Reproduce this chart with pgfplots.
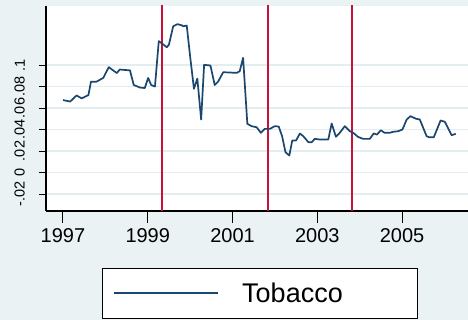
\documentclass[border=0pt]{standalone}
\usepackage{pgfplots}
\pgfplotsset{compat=1.18}
\usepackage{fontspec}
\setmainfont{Liberation Sans}
\definecolor{bgcol}{RGB}{234,242,243}
\definecolor{gridcol}{RGB}{228,237,239}
\definecolor{navyc}{RGB}{26,71,111}
\definecolor{redc}{RGB}{200,16,56}
\begin{document}
\begin{tikzpicture}
\path[fill=bgcol,use as bounding box] (0,0) rectangle (468pt,320pt);
\begin{axis}[
  at={(46pt,109pt)}, anchor=south west,
  scale only axis, width=422pt, height=205pt,
  xmin=1996.599, xmax=2006.557,
  ymin=-0.0358, ymax=0.1549,
  axis lines*=left,
  axis line style={black, line width=1.3pt},
  axis background/.style={fill=white},
  tick align=outside,
  major tick length=12pt,
  xtick={1997,1999,2001,2003,2005},
  xticklabels={1997,1999,2001,2003,2005},
  ytick={-0.02,0,0.02,0.04,0.06,0.08,0.1},
  yticklabels={-.02,0,.02,.04,.06,.08,.1},
  x tick style={black, line width=1pt},
  y tick style={black, line width=1pt, /pgfplots/major tick length=7pt},
  xticklabel style={font=\fontsize{20}{22}\selectfont, yshift=-2pt},
  yticklabel style={font=\fontsize{14.5}{16}\selectfont, xshift=-9pt, rotate=90, anchor=south, inner sep=0pt},
  ymajorgrids, grid style={gridcol, line width=1.5pt},
  legend style={at={(axis description cs:0.1327,-0.278)}, anchor=north west,
    draw=black, line width=1pt, fill=white, inner sep=0pt,
    column sep=0pt, row sep=0pt,
    nodes={inner sep=0pt, anchor=west},
    font=\fontsize{27}{30}\selectfont},
  legend image code/.code={\draw[#1] (0pt,0pt) -- (104pt,0pt); \path (-11pt,-24pt) (127pt,24pt);},
]
\addplot[redc, line width=1.8pt, forget plot] coordinates {(1999.33,-0.04) (1999.33,0.16)};
\addplot[redc, line width=1.8pt, forget plot] coordinates {(2001.83,-0.04) (2001.83,0.16)};
\addplot[redc, line width=1.8pt, forget plot] coordinates {(2003.82,-0.04) (2003.82,0.16)};
\addplot[navyc, line width=1.7pt, line join=round] coordinates {
(1997.00,0.0674) (1997.17,0.0660) (1997.32,0.0717) (1997.44,0.0690) (1997.60,0.0720)
(1997.66,0.0845) (1997.79,0.0845) (1997.95,0.0880) (1998.08,0.0980) (1998.27,0.0925)
(1998.34,0.0958) (1998.58,0.0950) (1998.67,0.0814) (1998.82,0.0790) (1998.93,0.0786)
(1999.01,0.0880) (1999.08,0.0814) (1999.17,0.0800) (1999.26,0.1222) (1999.37,0.1190)
(1999.45,0.1165) (1999.50,0.1190) (1999.60,0.1360) (1999.70,0.1380) (1999.80,0.1370)
(1999.84,0.1360) (1999.92,0.1367) (2000.00,0.1080) (2000.09,0.0779) (2000.17,0.0874)
(2000.26,0.0493) (2000.33,0.1002) (2000.48,0.0995) (2000.58,0.0814) (2000.66,0.0845)
(2000.78,0.0933) (2001.10,0.0927) (2001.17,0.0942) (2001.25,0.1067) (2001.35,0.0453)
(2001.45,0.0431) (2001.57,0.0421) (2001.67,0.0369) (2001.76,0.0406) (2001.88,0.0406)
(2002.00,0.0431) (2002.09,0.0428) (2002.17,0.0338) (2002.25,0.0189) (2002.34,0.0158)
(2002.41,0.0298) (2002.50,0.0298) (2002.59,0.0363) (2002.67,0.0338) (2002.79,0.0282)
(2002.87,0.0282) (2002.94,0.0313) (2003.06,0.0307) (2003.26,0.0307) (2003.34,0.0456)
(2003.44,0.0332) (2003.53,0.0369) (2003.65,0.0431) (2003.77,0.0384) (2003.85,0.0369)
(2003.96,0.0332) (2004.08,0.0313) (2004.24,0.0313) (2004.33,0.0363) (2004.41,0.0353)
(2004.50,0.0393) (2004.59,0.0369) (2004.71,0.0369) (2004.79,0.0379) (2004.91,0.0384)
(2005.01,0.0400) (2005.11,0.0493) (2005.20,0.0524) (2005.33,0.0500) (2005.42,0.0493)
(2005.58,0.0338) (2005.64,0.0328) (2005.75,0.0328) (2005.91,0.0484) (2006.01,0.0472)
(2006.17,0.0347) (2006.27,0.0360)
};
\addlegendentry{\makebox[175pt][l]{Tobacco}}
\end{axis}
\end{tikzpicture}
\end{document}
